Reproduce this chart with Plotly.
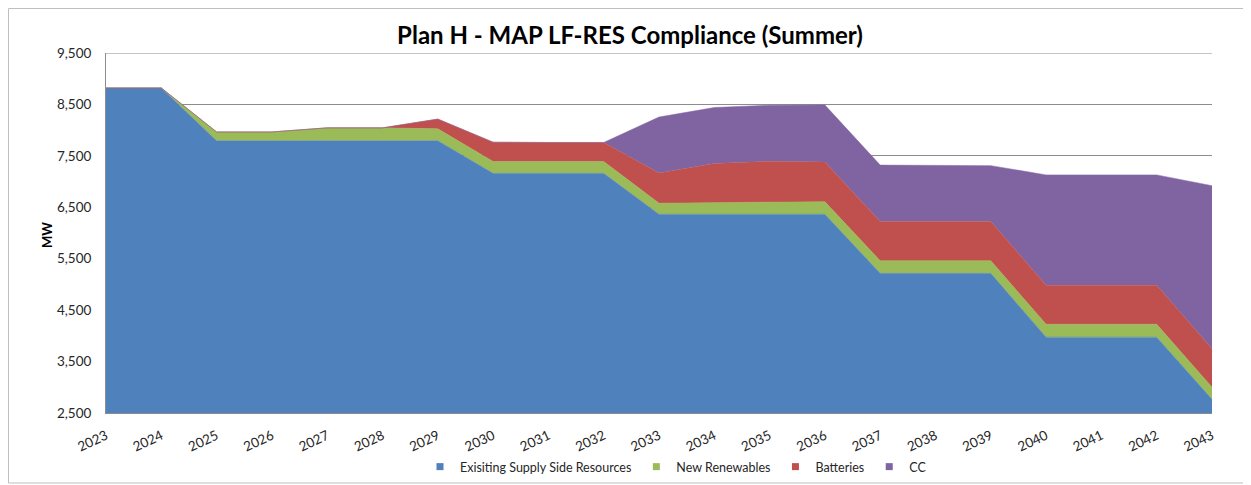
import plotly.graph_objects as go

years = list(range(2023, 2044))
existing = [8820, 8820, 7795, 7795, 7795, 7795, 7795, 7160, 7160, 7160, 6365,
            6365, 6365, 6365, 5215, 5215, 5215, 3975, 3975, 3975, 2765]
renewables = [0, 0, 170, 170, 250, 250, 230, 230, 230, 230, 215,
              225, 245, 245, 245, 245, 245, 250, 250, 250, 235]
batteries = [0, 0, 0, 0, 0, 0, 190, 375, 370, 370, 585,
             760, 785, 770, 765, 765, 765, 760, 760, 760, 750]
cc = [0, 0, 0, 0, 0, 0, 0, 0, 0, 0, 1090,
      1090, 1090, 1110, 1095, 1090, 1085, 2145, 2145, 2145, 3170]
y_ticks = [2500, 3500, 4500, 5500, 6500, 7500, 8500, 9500]

series = [
    ("Exisiting Supply Side Resources", existing, "#4F81BD"),
    ("New Renewables", renewables, "#9BBB59"),
    ("Batteries", batteries, "#C0504D"),
    ("CC", cc, "#8064A2"),
]

FONT = "Lato, Carlito, 'Open Sans', sans-serif"
GRID = "#8C8C8C"

fig = go.Figure()
for name, vals, col in series:
    fig.add_trace(go.Scatter(
        x=years, y=vals, name=name, mode="lines", stackgroup="one",
        line=dict(width=0.5, color=col), fillcolor=col, showlegend=False,
    ))
# legend entries with small square swatches
for name, vals, col in series:
    fig.add_trace(go.Scatter(
        x=[None], y=[None], name=name, mode="markers",
        marker=dict(symbol="square", size=7, color=col), showlegend=True,
    ))

# page body adds an 8px offset; work in reference coordinates minus 8
OFF = 8
W, H = 1251 - OFF, 485 - OFF
L, R, T, B = 106 - OFF, 1212 - OFF, 53 - OFF, 413 - OFF

def px_x(p):
    return (p - OFF - L) / (R - L)

def px_y(p):
    return (B - (p - OFF)) / (B - T)

fig.update_layout(
    width=W, height=H,
    margin=dict(l=L, r=W - R, t=T, b=H - B, autoexpand=False),
    paper_bgcolor="white", plot_bgcolor="white",
    font=dict(family=FONT, size=13, color="#262626"),
    title=dict(text="<b>Plan H - MAP LF-RES Compliance (Summer)</b>",
               x=(630 - OFF) / W, xanchor="center",
               y=1 - (36 - OFF) / H, yanchor="middle", yref="container",
               font=dict(family=FONT, size=24, color="black")),
    showlegend=True,
    legend=dict(orientation="h", x=px_x(676), xanchor="center",
                y=px_y(467), yanchor="middle",
                font=dict(family=FONT, size=12.5, color="#262626"),
                itemwidth=30, traceorder="normal", bgcolor="rgba(0,0,0,0)"),
    xaxis=dict(range=[2023, 2043], tickmode="array", tickvals=years,
               ticktext=[str(y) for y in years], tickangle=-25,
               showgrid=False, showline=True, linecolor=GRID,
               linewidth=1, ticks="", zeroline=False, automargin=False,
               ticklabelstandoff=9,
               tickfont=dict(family=FONT, size=13.5, color="#262626")),
    yaxis=dict(range=[2500, 9500], tickmode="array", tickvals=y_ticks,
               tickformat=",", showgrid=True, gridcolor=GRID,
               gridwidth=1, showline=True, linecolor=GRID,
               linewidth=1, ticks="", zeroline=False, automargin=False,
               ticklabelstandoff=11,
               tickfont=dict(family=FONT, size=13.5, color="#262626")),
)

fig.add_annotation(text="<b>MW</b>", textangle=-90, xref="paper", yref="paper",
                   x=px_x(47), y=px_y(235), xanchor="center", yanchor="middle",
                   showarrow=False,
                   font=dict(family=FONT, size=13, color="black"))

# top gridline at the upper range edge
fig.add_shape(type="line", xref="paper", yref="y", x0=0, x1=1,
              y0=y_ticks[-1], y1=y_ticks[-1], line=dict(color=GRID, width=1),
              layer="below")

# chart frame
fig.add_shape(type="rect", xref="paper", yref="paper",
              x0=px_x(8.5), x1=px_x(1262), y0=px_y(483), y1=px_y(8.5),
              line=dict(color="#BFBFBF", width=1), layer="below")

fig.write_html("out.html")
